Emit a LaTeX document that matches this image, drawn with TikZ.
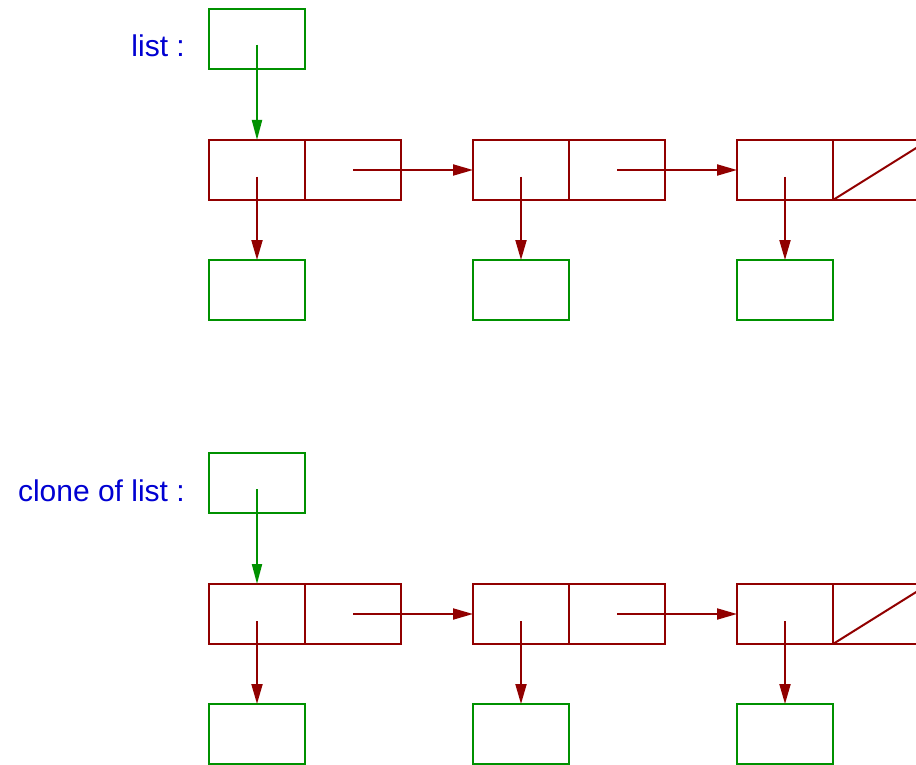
\documentclass[tikz,border=0pt]{standalone}
\usepackage{fontspec}
\setmainfont{Liberation Sans}
\usetikzlibrary{arrows.meta}
\definecolor{gr}{RGB}{0,145,0}
\definecolor{dr}{RGB}{145,0,0}
\definecolor{bl}{RGB}{0,0,210}
\tikzset{
  cell/.style={draw, line width=2pt, minimum width=96pt, minimum height=60pt, inner sep=0pt, outer sep=0pt},
  gbox/.style={cell, draw=gr},
  rbox/.style={cell, draw=dr},
  garrow/.style={draw=gr, line width=2pt, -{Triangle[length=20pt,width=10pt]}, fill=gr},
  rarrow/.style={draw=dr, line width=2pt, -{Triangle[length=20pt,width=11pt]}, fill=dr},
  lbl/.style={text=bl, font=\fontsize{30}{36}\selectfont, anchor=base east, inner sep=0pt}
}
\begin{document}
\begin{tikzpicture}[x=1pt, y=-1pt]
\path[use as bounding box, clip] (0,0) rectangle (916,765);
\fill[white] (0,0) rectangle (916,765);
\foreach \s/\oy/\txt in {u/0/{list :}, v/444/{clone of list :}} {
  \node[lbl] (t\s) at (185,57+\oy) {\txt};
  \node[gbox] (p\s) at (257,39+\oy) {};
  \node[rbox] (a1\s) at (257,170+\oy) {};
  \node[rbox] (b1\s) at (353,170+\oy) {};
  \node[rbox] (a2\s) at (521,170+\oy) {};
  \node[rbox] (b2\s) at (617,170+\oy) {};
  \node[rbox] (a3\s) at (785,170+\oy) {};
  \node[rbox] (b3\s) at (881,170+\oy) {};
  \node[gbox] (d1\s) at (257,290+\oy) {};
  \node[gbox] (d2\s) at (521,290+\oy) {};
  \node[gbox] (d3\s) at (785,290+\oy) {};
  \draw[dr, line width=2pt] (b3\s.south west) -- (b3\s.north east);
  \draw[garrow] ([yshift=-6pt]p\s.center) -- (a1\s.north);
  \draw[rarrow] ([yshift=-7pt]a1\s.center) -- (d1\s.north);
  \draw[rarrow] ([yshift=-7pt]a2\s.center) -- (d2\s.north);
  \draw[rarrow] ([yshift=-7pt]a3\s.center) -- (d3\s.north);
  \draw[rarrow] (b1\s.center) -- (a2\s.west);
  \draw[rarrow] (b2\s.center) -- (a3\s.west);
}
\end{tikzpicture}
\end{document}
